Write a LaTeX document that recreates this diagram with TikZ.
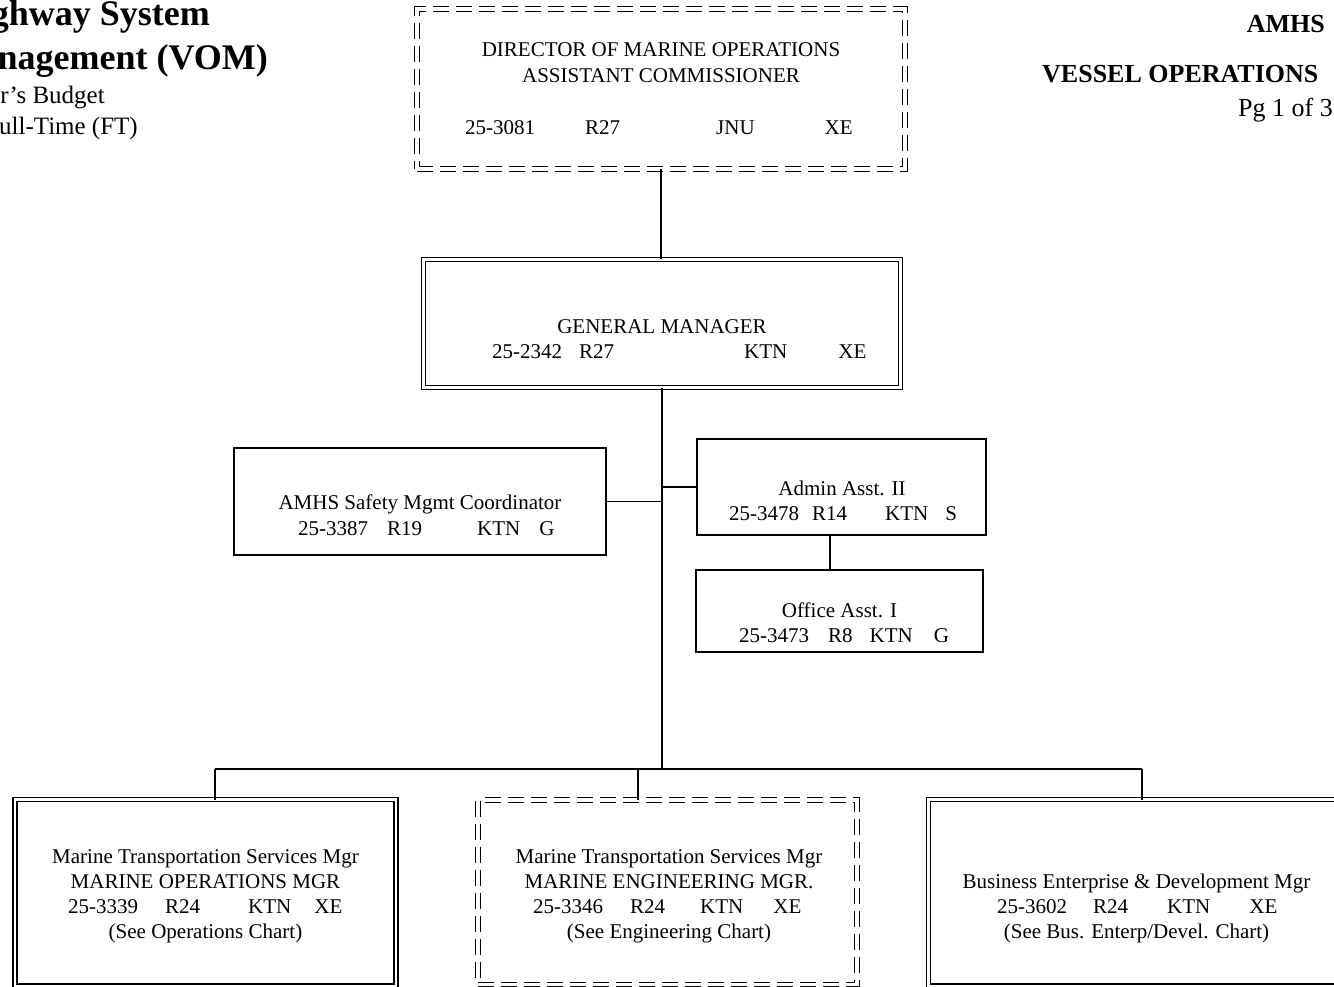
\documentclass[tikz,border=0pt]{standalone}
\usepackage{fontspec}
\setmainfont{Liberation Serif}
\newcommand\bxf{\fontsize{21pt}{25pt}\selectfont}
\newcommand\ttlf{\fontsize{36pt}{40pt}\selectfont\bfseries}
\newcommand\subf{\fontsize{25pt}{30pt}\selectfont}
\newcommand\hdf{\fontsize{26pt}{30pt}\selectfont\bfseries}
\newcommand\pgnf{\fontsize{26pt}{30pt}\selectfont}
\begin{document}
\begin{tikzpicture}[x=1pt,y=-1pt,
  box/.style={draw, line width=1.7pt, inner sep=0pt, outer sep=0pt},
  dbox/.style={draw, line width=1.4pt, double, double distance=2.4pt, inner sep=0pt, outer sep=0pt},
  ddbox/.style={draw, line width=1.3pt, double, double distance=3.4pt, dash pattern=on 16pt off 7pt, inner sep=0pt, outer sep=0pt},
  txt/.style={font=\bxf, inner sep=0pt, anchor=base},
  txtw/.style={font=\bxf, inner sep=0pt, anchor=base west},
  link/.style={line width=1.7pt}]
\fill[white] (0,0) rectangle (1334,987);
\useasboundingbox (0,0) rectangle (1334,987);

% header texts
\node[anchor=base east, font=\ttlf, inner sep=0pt] (t1) at (210,26) {ghway System};
\node[anchor=base east, font=\ttlf, inner sep=0pt] (t2) at (268,70) {nagement (VOM)};
\node[anchor=base east, font=\subf, inner sep=0pt] (t3) at (105,104) {r’s Budget};
\node[anchor=base east, font=\subf, inner sep=0pt] (t4) at (138,135) {ull-Time (FT)};
\node[anchor=base east, font=\hdf, inner sep=0pt] (h1) at (1325,33) {AMHS};
\node[anchor=base west, font=\hdf, inner sep=0pt] (h2) at (1042,83) {VESSEL OPERATIONS};
\node[anchor=base east, font=\pgnf, inner sep=0pt] (h3) at (1333,117) {Pg 1 of 3};

% boxes
\node[ddbox, minimum width=488pt, minimum height=160pt] (dir) at (661,89) {};
\node[dbox, minimum width=477pt, minimum height=128pt] (gm) at (662,323.5) {};
\node[box, minimum width=372pt, minimum height=107pt] (safety) at (420,501.5) {};
\node[box, minimum width=289pt, minimum height=96pt] (admin) at (841.5,487) {};
\node[box, minimum width=287pt, minimum height=82pt] (office) at (839.5,611) {};
\node[dbox, minimum width=381pt, minimum height=186.5pt] (lbox) at (205.5,892.75) {};
\node[ddbox, minimum width=379pt, minimum height=184.5pt] (mbox) at (667.5,892.25) {};
\node[dbox, minimum width=415pt, minimum height=186.5pt] (rbox) at (1136,892.75) {};

% box texts
\node[txt] (d1) at (661,57) {DIRECTOR OF MARINE OPERATIONS};
\node[txt] (d2) at (661,83) {ASSISTANT COMMISSIONER};
\node[txtw] (d3) at (465,135) {25-3081\hspace{50pt}R27\hspace{96pt}JNU\hspace{70pt}XE};

\node[txt] (g1) at (662,333) {GENERAL MANAGER};
\node[txtw] (g2) at (492,358) {25-2342\hspace{17pt}R27\hspace{130pt}KTN\hspace{51pt}XE};

\node[txt] (s1) at (420,509) {AMHS Safety Mgmt Coordinator};
\node[txtw] (s2) at (298,535) {25-3387\hspace{19pt}R19\hspace{55pt}KTN\hspace{19pt}G};

\node[txt] (a1) at (842,495) {Admin Asst. II};
\node[txtw] (a2) at (729,520) {25-3478\hspace{13pt}R14\hspace{38pt}KTN\hspace{17pt}S};

\node[txt] (o1) at (839.5,617) {Office Asst. I};
\node[txtw] (o2) at (739,642) {25-3473\hspace{19pt}R8\hspace{17pt}KTN\hspace{21pt}G};

\node[txt] (l1) at (205.5,863) {Marine Transportation Services Mgr};
\node[txt] (l2) at (205.5,888) {MARINE OPERATIONS MGR};
\node[txtw] (l3) at (68,913) {25-3339\hspace{27pt}R24\hspace{48pt}KTN\hspace{23pt}XE};
\node[txt] (l4) at (205.5,938) {(See Operations Chart)};

\node[txt] (m1) at (669,863) {Marine Transportation Services Mgr};
\node[txt] (m2) at (669,888) {MARINE ENGINEERING MGR.};
\node[txtw] (m3) at (533,913) {25-3346\hspace{27pt}R24\hspace{35pt}KTN\hspace{30pt}XE};
\node[txt] (m4) at (669,938) {(See Engineering Chart)};

\node[txt] (r1) at (1136.5,888) {Business Enterprise \& Development Mgr};
\node[txtw] (r2) at (997,913) {25-3602\hspace{26pt}R24\hspace{39pt}KTN\hspace{39pt}XE};
\node[txt] (r3) at (1136.5,938) {(See Bus. Enterp/Devel. Chart)};

% connectors
\coordinate (busC) at (662,769);
\coordinate (busL) at (215,769);
\coordinate (busM) at (638,769);
\coordinate (busR) at (1142,769);
\coordinate (aoX) at (830,550);
\draw[link] (dir.south) -- (dir.south |- gm.north);
\draw[link] (gm.south) -- (busC);
\draw[link] (safety.east) -- (safety.east -| busC);
\draw[link] (admin.west) -- (admin.west -| busC);
\draw[link] (admin.south -| aoX) -- (office.north -| aoX);
\draw[link] (busL) -- (busR);
\draw[link] (busL) -- (lbox.north -| busL);
\draw[link] (busM) -- (mbox.north -| busM);
\draw[link] (busR) -- (rbox.north -| busR);
\end{tikzpicture}
\end{document}
